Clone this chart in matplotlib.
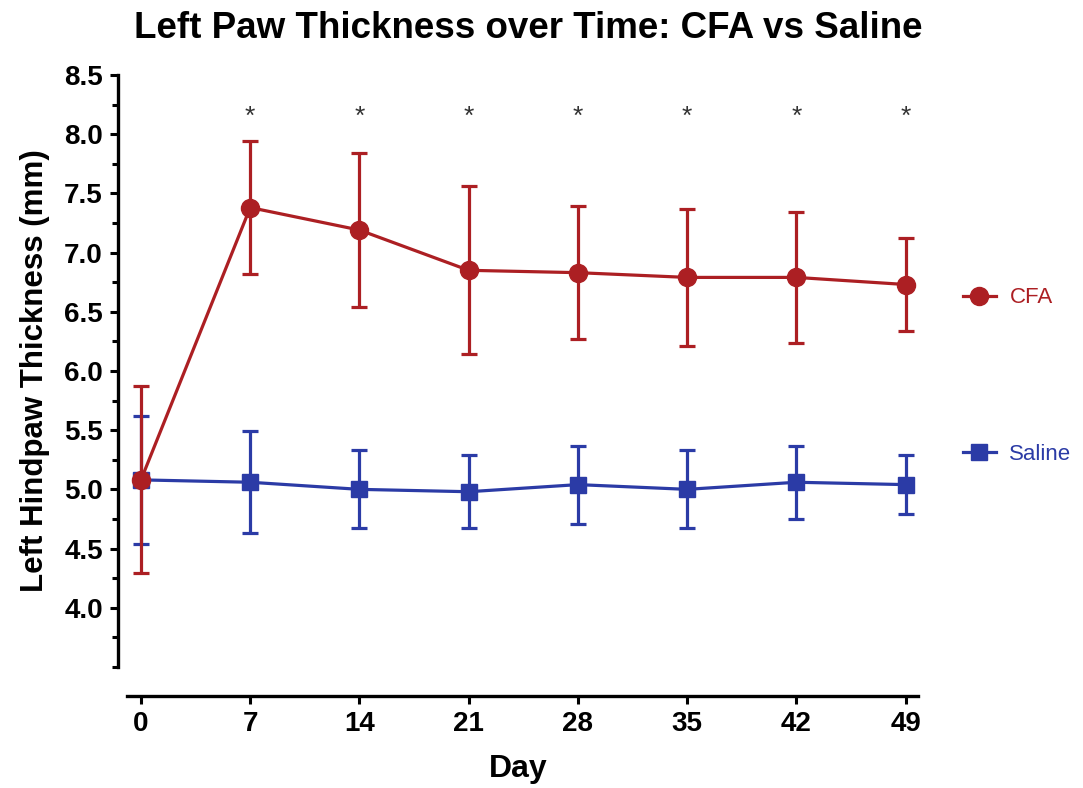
import matplotlib
matplotlib.use('Agg')
import matplotlib.pyplot as plt
from matplotlib.ticker import MultipleLocator

days = [0, 7, 14, 21, 28, 35, 42, 49]
cfa_mean = [5.08, 7.38, 7.19, 6.85, 6.83, 6.79, 6.79, 6.73]
cfa_err = [0.79, 0.56, 0.65, 0.71, 0.56, 0.58, 0.55, 0.39]
saline_mean = [5.08, 5.06, 5.00, 4.98, 5.04, 5.00, 5.06, 5.04]
saline_err = [0.54, 0.43, 0.33, 0.31, 0.33, 0.33, 0.31, 0.25]
star_days = [7, 14, 21, 28, 35, 42, 49]
star_y = 8.15

red = '#ac1f23'
blue = '#2b3ba6'

plt.rcParams['font.family'] = ['Liberation Sans', 'DejaVu Sans']

fig = plt.figure(figsize=(10.83, 7.88), dpi=100)
ax = fig.add_axes([0.109, 0.1536, 0.7387, 0.7513])

sal = ax.errorbar(days, saline_mean, yerr=saline_err, color=blue, marker='s', markersize=12,
                  linewidth=2.3, elinewidth=2.3, capsize=6, capthick=2.3, label='Saline', zorder=3)
cfa = ax.errorbar(days, cfa_mean, yerr=cfa_err, color=red, marker='o', markersize=13,
                  linewidth=2.3, elinewidth=2.3, capsize=6, capthick=2.3, label='CFA', zorder=4)

# significance markers
for d in star_days:
    ax.text(d, star_y, '*', ha='center', va='center', fontsize=19, color='#333333')

ax.set_xlim(-1.47, 49.8)
ax.set_ylim(3.5, 8.5)
ax.set_xticks(days)
ax.set_yticks([4.0, 4.5, 5.0, 5.5, 6.0, 6.5, 7.0, 7.5, 8.0, 8.5])
ax.yaxis.set_minor_locator(MultipleLocator(0.25))
ax.set_yticklabels(['{:.1f}'.format(v) for v in ax.get_yticks()])

for s in ['top', 'right']:
    ax.spines[s].set_visible(False)
ax.spines['left'].set_linewidth(2.4)
ax.spines['bottom'].set_linewidth(2.4)
ax.spines['bottom'].set_position(('outward', 21))
ax.spines['bottom'].set_bounds(-0.9, 49.8)
ax.spines['left'].set_bounds(3.5, 8.5)

ax.tick_params(axis='both', which='major', length=6, width=2.2, labelsize=20, pad=5)
ax.tick_params(axis='y', which='minor', length=4, width=2.2)
for lab in ax.get_xticklabels() + ax.get_yticklabels():
    lab.set_fontweight('bold')

ax.set_xlabel('Day', fontsize=23, fontweight='bold', labelpad=12)
ax.set_ylabel('Left Hindpaw Thickness (mm)', fontsize=22.5, fontweight='bold', labelpad=10)

fig.text(0.488, 0.964, 'Left Paw Thickness over Time: CFA vs Saline', ha='center', va='center',
         fontsize=26.5, fontweight='bold')

leg = fig.legend([cfa.lines[0], sal.lines[0]], ['CFA', 'Saline'], loc='center left',
                 bbox_to_anchor=(0.889, 0.5225), frameon=False, fontsize=16, labelspacing=6.1,
                 handlelength=1.5, handletextpad=0.6, borderpad=0, borderaxespad=0)
for t, c in zip(leg.get_texts(), [red, blue]):
    t.set_color(c)

fig.savefig('out.png', dpi=100)
